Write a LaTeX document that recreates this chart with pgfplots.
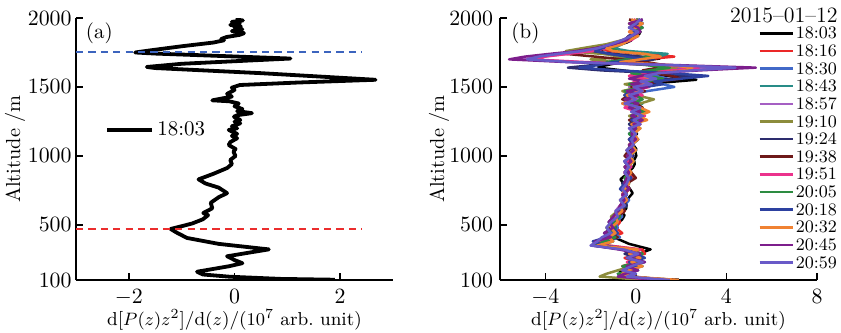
\documentclass[border=0pt]{standalone}
\usepackage{pgfplots}
\pgfplotsset{compat=1.18}
\usepackage{pgfplotstable}

\definecolor{cA}{RGB}{0,0,0}
\definecolor{cB}{RGB}{235,40,40}
\definecolor{cC}{RGB}{65,105,200}
\definecolor{cD}{RGB}{40,140,135}
\definecolor{cE}{RGB}{165,95,195}
\definecolor{cF}{RGB}{140,140,60}
\definecolor{cG}{RGB}{45,45,110}
\definecolor{cH}{RGB}{110,25,25}
\definecolor{cI}{RGB}{235,50,140}
\definecolor{cJ}{RGB}{45,140,65}
\definecolor{cK}{RGB}{45,65,160}
\definecolor{cL}{RGB}{240,130,50}
\definecolor{cM}{RGB}{125,30,140}
\definecolor{cN}{RGB}{105,90,200}
\definecolor{dblue}{RGB}{60,100,190}
\definecolor{dred}{RGB}{235,45,45}

\pgfplotstableread{
x y
0.02 1990
0.16 1982
-0.05 1972
0.10 1962
-0.08 1950
0.12 1940
0.00 1930
0.15 1918
-0.05 1905
0.18 1890
0.10 1878
-0.15 1862
-0.25 1848
-0.20 1838
-0.40 1822
-1.00 1795
-1.60 1765
-1.88 1750
-1.50 1742
-0.50 1728
1.06 1706
0.30 1692
-1.00 1668
-1.66 1645
-1.50 1637
0.50 1600
2.67 1552
1.20 1532
0.10 1514
-0.05 1495
0.00 1478
-0.14 1450
-0.05 1430
-0.42 1403
-0.10 1396
0.08 1380
0.00 1360
0.15 1340
0.05 1325
0.33 1310
0.05 1295
-0.01 1284
0.11 1260
0.00 1248
0.11 1236
-0.05 1215
0.05 1200
-0.11 1188
0.05 1160
-0.05 1145
0.05 1128
-0.08 1100
-0.11 1079
0.02 1050
-0.02 1030
0.02 1000
-0.08 970
-0.05 940
-0.14 912
-0.40 870
-0.68 830
-0.55 800
-0.30 770
-0.14 730
-0.30 700
-0.45 660
-0.42 620
-0.59 586
-0.50 570
-0.60 540
-0.80 510
-1.00 490
-1.21 470
-1.10 445
-0.90 405
-0.30 362
0.65 322
0.30 300
-0.14 272
0.00 245
0.15 222
-0.10 200
-0.71 160
-0.60 140
-0.10 124
0.87 108
1.90 102
}\blackdata

\pgfplotstableread{
y s2 s3 s4 s5 s6 s7 s8 s9 s10 s11 s12 s13 s14
1990 -0.1 0.2 0.0 -0.2 0.1 0.3 -0.3 0.0 0.2 0.1 -0.2 0.3 0.2
1960 0.2 -0.2 0.3 0.1 -0.3 0.0 0.2 -0.2 -0.1 0.3 0.3 -0.3 0.0
1930 -0.2 0.1 -0.1 0.3 0.0 -0.3 -0.1 0.2 0.3 -0.2 0.0 0.1 -0.3
1900 0.1 -0.1 0.2 -0.2 0.2 0.2 0.1 -0.3 -0.1 0.0 -0.3 0.2 0.1
1870 -0.3 0.0 -0.2 0.0 -0.1 -0.2 -0.3 0.1 0.1 -0.3 0.1 -0.2 -0.2
1840 -0.5 -0.4 -0.3 -0.4 -0.6 -0.3 -0.5 -0.2 -0.4 -0.5 -0.3 -0.4 -0.6
1810 -0.9 -0.7 -0.6 -0.9 -1.3 -0.8 -1.0 -0.7 -0.8 -0.9 -0.6 -1.0 -1.1
1780 -1.5 -1.2 -1.0 -1.6 -2.4 -1.4 -1.8 -1.3 -1.1 -1.5 -1.3 -1.8 -1.7
1760 -1.2 -0.6 -0.3 -2.2 -3.1 -1.9 -2.6 -1.9 -0.8 -1.8 -1.0 -2.6 -2.4
1740 0.2 0.6 1.4 -3.0 -1.5 -1.0 -3.1 -3.0 0.3 -1.2 0.4 -3.8 -3.4
1720 1.7 0.9 1.0 -4.2 -0.3 0.2 -1.8 -4.0 0.8 -0.4 1.1 -4.9 -4.3
1700 0.4 -0.5 -0.2 -5.0 -2.0 0.8 -0.6 -4.6 -0.4 0.5 0.2 -5.6 -4.8
1680 -0.8 -1.2 -1.0 -2.5 -1.0 -0.5 0.5 -2.2 -1.3 -1.0 -0.7 -3.0 -2.8
1660 0.6 0.8 0.5 0.8 0.7 -1.8 1.2 1.0 0.4 -1.6 1.4 1.5 1.2
1640 2.0 2.3 1.6 3.2 1.8 -3.0 1.0 2.8 1.5 -2.5 2.5 5.3 4.4
1620 1.2 1.5 0.8 1.8 0.9 -1.5 0.3 1.6 0.6 -0.8 2.2 2.8 2.5
1600 0.3 0.5 0.1 0.6 0.2 1.0 0.8 0.4 -0.2 1.5 0.9 0.8 1.0
1580 -0.3 0.9 0.5 -0.2 0.6 2.5 1.6 -0.3 0.5 3.2 0.3 0.2 0.4
1560 0.2 1.4 1.0 0.3 -0.2 1.6 2.0 0.5 1.2 2.0 0.8 -0.3 0.9
1540 0.6 0.8 0.3 0.1 0.4 0.5 1.0 -0.1 0.4 0.8 0.2 0.4 0.2
1520 -0.2 1.2 -0.3 0.5 -0.5 0.9 0.3 0.3 -0.3 1.2 0.6 -0.2 0.7
1500 0.3 1.7 0.2 -0.3 0.2 0.2 -0.2 0.6 0.3 0.4 -0.1 0.5 -0.1
1470 -0.4 0.5 -0.5 0.2 -0.6 -0.3 0.4 -0.2 -0.5 -0.2 0.3 -0.4 0.3
1440 0.1 -0.3 0.2 -0.5 0.0 -0.5 -0.3 0.3 0.0 -0.5 -0.4 0.1 -0.3
1410 -0.5 0.0 -0.2 0.1 0.8 -0.1 -0.6 -0.4 0.3 -0.2 0.0 -0.5 0.0
1380 0.0 -0.4 0.3 -0.3 0.2 -0.6 0.0 -0.2 -0.3 -0.4 -0.6 0.1 -0.5
1350 -0.3 0.1 -0.1 0.2 -0.2 0.0 0.3 -0.5 0.1 0.2 0.2 -0.3 0.2
1320 0.2 -0.2 0.4 -0.1 0.3 0.4 -0.1 0.1 0.4 -0.1 0.6 0.2 -0.2
1290 -0.2 0.3 -0.1 0.4 -0.3 -0.2 0.2 0.4 -0.2 0.3 0.1 -0.2 0.3
1260 0.3 -0.1 0.1 -0.2 0.1 0.1 -0.3 -0.1 0.2 -0.2 0.5 0.3 -0.1
1230 -0.1 0.2 -0.3 0.1 -0.1 -0.3 0.1 0.2 -0.1 0.1 -0.2 -0.1 0.2
1200 0.1 -0.2 0.1 -0.3 0.2 0.0 -0.2 -0.2 0.1 -0.2 0.2 0.0 -0.3
1160 -0.2 0.0 -0.2 0.0 -0.2 -0.3 0.0 0.0 -0.3 0.0 -0.1 -0.2 0.0
1120 0.0 -0.3 0.1 -0.2 0.0 0.1 -0.3 -0.3 0.0 -0.3 0.1 0.0 -0.2
1080 -0.3 -0.1 -0.2 -0.1 -0.3 -0.2 -0.1 -0.1 -0.2 -0.1 -0.2 -0.3 -0.1
1040 -0.1 -0.4 0.0 -0.4 -0.1 -0.4 -0.3 -0.4 0.0 -0.4 0.0 -0.1 -0.4
1000 -0.4 -0.2 -0.3 -0.2 -0.4 -0.1 -0.5 -0.2 -0.3 -0.2 -0.3 -0.4 -0.2
960 -0.2 -0.5 -0.1 -0.5 -0.2 -0.4 -0.2 -0.4 -0.1 -0.5 -0.1 -0.2 -0.5
920 -0.4 -0.3 -0.4 -0.3 -0.5 -0.3 -0.4 -0.2 -0.4 -0.3 -0.4 -0.5 -0.3
880 -0.3 -0.5 -0.2 -0.4 -0.3 -0.5 -0.2 -0.5 -0.3 -0.4 -0.2 -0.3 -0.5
840 -0.1 -0.3 -0.4 -0.2 -0.5 -0.3 0.0 -0.3 -0.5 -0.2 -0.4 -0.4 -0.3
800 -0.4 -0.5 -0.3 -0.5 -0.3 -0.6 -0.4 -0.5 -0.3 -0.5 -0.3 -0.5 -0.4
760 -0.3 -0.4 -0.6 -0.3 -0.5 -0.4 -0.3 -0.3 -0.5 -0.7 -0.5 -0.3 -0.6
720 -0.5 -0.6 -0.4 -0.6 -0.4 -0.5 -0.6 -0.6 -0.4 -0.4 -0.6 -0.6 -0.4
680 -0.4 -0.3 -0.6 -0.5 -0.7 -0.6 -0.4 -0.4 -0.6 -0.6 -0.4 -0.5 -0.7
640 -0.6 -0.5 -0.4 -0.7 -0.5 -0.4 -0.6 -0.7 -0.5 -0.5 -0.7 -0.7 -0.5
600 -0.5 -0.7 -0.7 -0.9 -0.8 -0.7 -0.5 -0.6 -0.8 -0.7 -0.6 -0.8 -0.9
560 -0.8 -0.6 -0.9 -0.8 -1.1 -0.9 -0.8 -0.9 -0.7 -0.8 -0.9 -1.0 -0.8
520 -0.7 -0.9 -0.8 -1.1 -1.0 -1.2 -1.0 -0.8 -1.0 -1.1 -0.8 -1.2 -1.1
480 -0.9 -0.8 -1.1 -1.0 -1.3 -1.0 -0.9 -1.1 -0.9 -1.0 -1.1 -1.0 -1.3
440 -0.6 -1.0 -0.8 -1.3 -1.1 -1.4 -1.2 -0.9 -1.2 -0.8 -0.9 -1.4 -1.1
410 -1.1 -0.7 -1.2 -0.9 -1.4 -1.0 -0.8 -1.3 -0.9 -1.3 -1.2 -1.1 -1.5
380 -1.6 -1.3 -1.0 -1.7 -1.2 -1.8 -1.5 -1.6 -1.4 -1.9 -1.0 -1.8 -1.7
350 -1.2 -1.8 -1.6 -1.4 -1.9 -1.5 -1.9 -1.3 -1.8 -1.4 -1.7 -1.9 -2.0
320 0.3 -0.5 0.1 -0.6 -0.4 0.0 -0.3 0.2 -0.5 -0.2 0.1 -0.7 -0.5
290 0.4 0.2 -0.4 0.0 0.3 -0.5 0.2 -0.2 0.3 0.0 -0.3 0.2 0.1
260 -0.5 -0.3 0.2 -0.4 -0.3 0.1 -0.4 0.3 -0.2 0.4 0.2 -0.3 -0.4
230 0.0 0.4 -0.2 0.3 0.1 -0.3 0.3 -0.4 0.2 -0.3 -0.2 0.4 0.3
200 -0.6 -0.4 0.3 -0.5 -0.2 0.2 -0.5 0.1 -0.6 0.1 0.3 -0.4 -0.2
170 -0.2 0.1 -0.5 0.0 -0.8 -0.4 0.0 -0.6 -0.1 -0.5 -0.3 0.1 -0.6
145 -0.7 -0.6 -0.2 -0.6 -1.3 -0.1 -0.7 -0.3 -0.8 0.0 -0.6 -0.5 0.0
125 -0.3 -0.2 -0.6 -0.3 -1.6 -0.6 -0.3 -0.7 -0.4 -0.5 -0.2 -0.8 -0.4
110 0.4 0.6 0.3 0.5 -0.4 0.7 0.8 0.2 0.5 0.6 1.0 0.3 0.7
100 1.2 1.5 1.0 1.3 0.2 1.6 1.8 1.1 1.4 1.2 1.9 0.9 1.5
}\multidata

\begin{document}
\begin{tikzpicture}
\pgfplotsset{
  myaxis/.style={
    scale only axis, width=158.5bp, height=131bp,
    axis x line*=bottom, axis y line*=left,
    tick align=inside, major tick length=3.5bp,
    ymin=100, ymax=2000, ytick={100,500,1000,1500,2000},
    minor tick num=0,
    clip mode=individual,
    /pgf/number format/1000 sep={},
    axis line style={line width=0.7pt},
    every tick/.style={black, line width=0.7pt},
    tick label style={font=\fontsize{11.2}{12}\selectfont},
    xticklabel style={yshift=-1bp},
    every axis y label/.style={at={(rel axis cs:0,0.5)}, xshift=-30.5bp, rotate=90, anchor=center, font=\fontsize{10.2}{12}\selectfont},
    every axis x label/.style={at={(rel axis cs:0.5,0)}, anchor=center, yshift=-20bp, font=\fontsize{9.4}{12}\selectfont},
    ylabel={Altitude /m},
    xlabel={d[$P(z)z^2$]/d($z$)/($10^7$ arb.\ unit)},
    every axis plot/.append style={line join=round},
    legend cell align=left,
  }
}
\begin{axis}[myaxis, name=left, at={(0,0)}, anchor=south west,
  xmin=-3, xmax=3, xtick={-2,0,2},
  yticklabel style={xshift=1.3bp},
  legend style={at={(rel axis cs:0.092,0.573)}, anchor=west, draw=none, fill=none, inner sep=0pt,
    nodes={inner sep=1.5pt}, font=\fontsize{10.5}{12}\selectfont},
  legend image code/.code={\draw[#1] (0bp,0bp) -- (22.5bp,0bp);},
]
\addplot[cA, line width=1.9bp] table[x=x, y=y] {\blackdata};
\addlegendentry{18:03}
\addplot[dblue, line width=1bp, dash pattern=on 3.6bp off 2.6bp, forget plot] coordinates {(-3,1750) (2.4,1750)};
\addplot[dred, line width=1bp, dash pattern=on 3.6bp off 2.6bp, forget plot] coordinates {(-3,470) (2.4,470)};
\node[anchor=north west, inner sep=0pt, font=\fontsize{10.5}{12}\selectfont] at (rel axis cs:0.03,0.985) {(a)};
\end{axis}

\begin{axis}[myaxis, name=right, at={(212bp,0)}, anchor=south west,
  xmin=-6, xmax=8, xtick={-4,0,4,8},
  legend style={at={(rel axis cs:0.814,0.972)}, anchor=north west, draw=none, fill=none, inner sep=0pt,
    nodes={inner sep=1pt, text height=5.6pt, text depth=0pt}, row sep=1.25pt,
    font=\fontsize{8.8}{9}\selectfont},
  legend image code/.code={\draw[#1] (0bp,0bp) -- (16.5bp,0bp);},
  every axis plot/.append style={line width=1.25bp},
]
\addplot[cA] table[x=x, y=y] {\blackdata};
\addlegendentry{18:03}
\addplot[cB] table[x=s2, y=y] {\multidata};
\addlegendentry{18:16}
\addplot[cC] table[x=s3, y=y] {\multidata};
\addlegendentry{18:30}
\addplot[cD] table[x=s4, y=y] {\multidata};
\addlegendentry{18:43}
\addplot[cE] table[x=s5, y=y] {\multidata};
\addlegendentry{18:57}
\addplot[cF] table[x=s6, y=y] {\multidata};
\addlegendentry{19:10}
\addplot[cG] table[x=s7, y=y] {\multidata};
\addlegendentry{19:24}
\addplot[cH] table[x=s8, y=y] {\multidata};
\addlegendentry{19:38}
\addplot[cI] table[x=s9, y=y] {\multidata};
\addlegendentry{19:51}
\addplot[cJ] table[x=s10, y=y] {\multidata};
\addlegendentry{20:05}
\addplot[cK] table[x=s11, y=y] {\multidata};
\addlegendentry{20:18}
\addplot[cL] table[x=s12, y=y] {\multidata};
\addlegendentry{20:32}
\addplot[cM] table[x=s13, y=y] {\multidata};
\addlegendentry{20:45}
\addplot[cN] table[x=s14, y=y] {\multidata};
\addlegendentry{20:59}
\node[anchor=north west, inner sep=0pt, font=\fontsize{10.5}{12}\selectfont] at (rel axis cs:0.035,0.985) {(b)};
\node[anchor=east, inner sep=0pt, font=\fontsize{11}{12}\selectfont] at (rel axis cs:1.066,1.01) {2015--01--12};
\end{axis}
\pgfresetboundingbox
\path (left.south west) ++(-38bp,-26.5bp) rectangle ++(420.5bp,166.5bp);
\end{tikzpicture}
\end{document}
